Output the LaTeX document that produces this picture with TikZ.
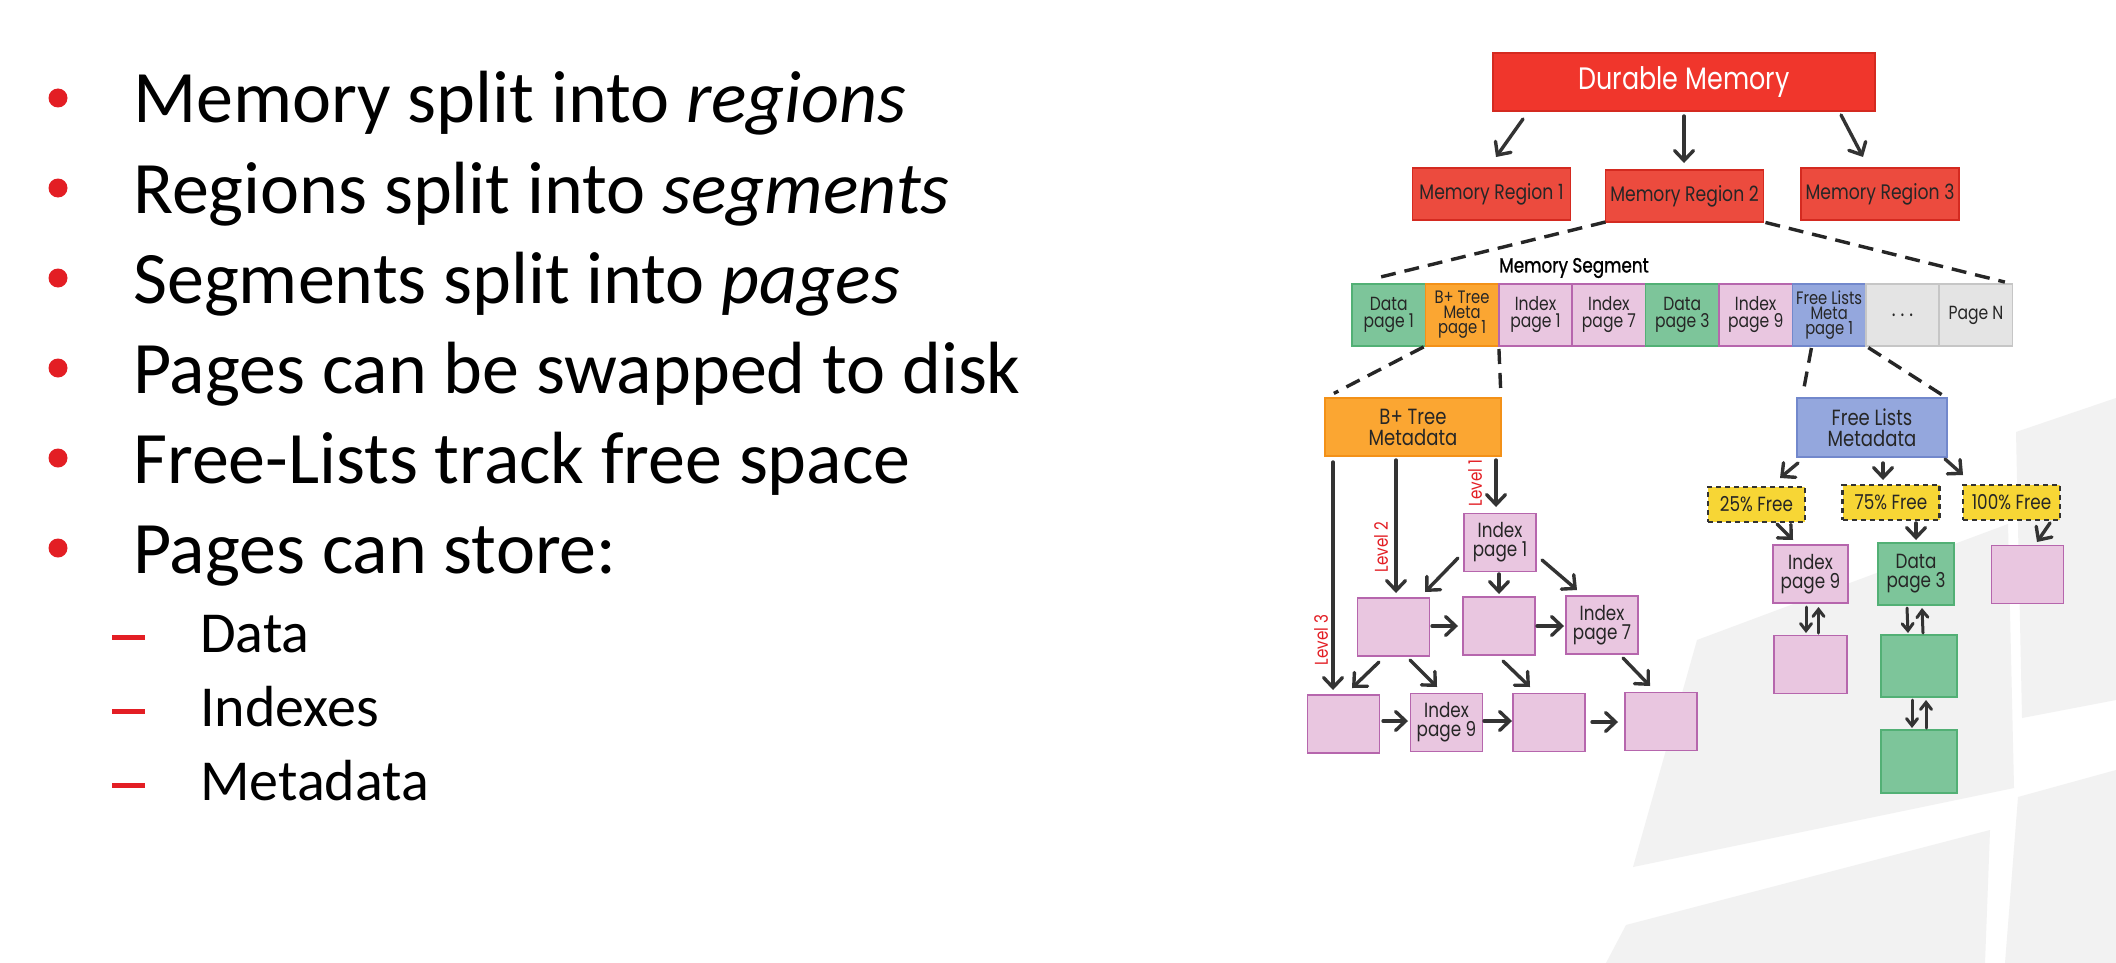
\documentclass[tikz,border=0pt]{standalone}
\usepackage{fontspec}
\setmainfont{Carlito}
\newfontfamily\hand[FakeStretch=0.82]{Poppins}
\newfontfamily\handb[FakeStretch=0.82,FakeBold=1.2]{Poppins}
\usetikzlibrary{arrows.meta,calc}

\definecolor{bulletred}{HTML}{E31E24}
\definecolor{boxred}{HTML}{F0362C}
\definecolor{boxredd}{HTML}{D42A20}
\definecolor{regred}{HTML}{EC4B3E}
\definecolor{pgreen}{HTML}{7DC59A}
\definecolor{pgreend}{HTML}{52B075}
\definecolor{porange}{HTML}{FBA632}
\definecolor{porangd}{HTML}{F39118}
\definecolor{ppink}{HTML}{E9C6E0}
\definecolor{ppinkd}{HTML}{B666AD}
\definecolor{pblue}{HTML}{94A7DD}
\definecolor{pblued}{HTML}{7288CC}
\definecolor{pgray}{HTML}{E4E4E4}
\definecolor{pgrayd}{HTML}{C6C6C6}
\definecolor{pyellow}{HTML}{F7D635}
\definecolor{ink}{HTML}{333333}
\definecolor{wm}{HTML}{F2F2F2}

\tikzset{
  btext/.style={anchor=base west, inner sep=0, font=\fontsize{74}{90}\selectfont},
  stext/.style={anchor=base west, inner sep=0, font=\fontsize{58}{70}\selectfont},
  bdot/.style={circle, fill=bulletred, minimum size=19, inner sep=0},
  bdash/.style={rectangle, fill=bulletred, minimum width=33, minimum height=5, inner sep=0},
  topbox/.style={draw=boxredd, fill=boxred, line width=1.2, inner sep=0, outer sep=0,
    text=white, font=\hand\fontsize{31}{34}\selectfont},
  regbox/.style={draw=boxredd, fill=regred, line width=1.5, inner sep=0, outer sep=0,
    minimum width=158, minimum height=52, text=black!85, font=\hand\fontsize{21}{23}\selectfont},
  cell/.style={draw, line width=1.6, inner sep=0, outer sep=0, minimum width=73.4,
    minimum height=62, align=center, text=black!85, font=\hand\fontsize{19}{17}\selectfont},
  cell3/.style={font=\hand\fontsize{18}{15}\selectfont},
  gcell/.style={cell, fill=pgreen, draw=pgreend},
  ocell/.style={cell, fill=porange, draw=porangd},
  pcell/.style={cell, fill=ppink, draw=ppinkd},
  bcell/.style={cell, fill=pblue, draw=pblued},
  ncell/.style={cell, fill=pgray, draw=pgrayd},
  page/.style={draw, line width=1.6, inner sep=0, outer sep=0, minimum width=72,
    minimum height=58, align=center, text=black!85, font=\hand\fontsize{20.5}{19}\selectfont},
  ppage/.style={page, fill=ppink, draw=ppinkd},
  gpage/.style={page, fill=pgreen, draw=pgreend, minimum width=76, minimum height=62},
  metabox/.style={draw, line width=1.6, inner sep=0, outer sep=0, minimum height=58,
    align=center, text=black!85, font=\hand\fontsize{22}{21}\selectfont},
  freetag/.style={fill=pyellow, draw=ink, line width=2.2, dash pattern=on 5pt off 4pt,
    inner sep=0, outer sep=0, minimum width=97, minimum height=35, text=black!85,
    font=\hand\fontsize{20.5}{21}\selectfont},
  lvl/.style={rotate=90, inner sep=0, text=bulletred, font=\hand\fontsize{18.5}{19}\selectfont},
  arr/.style={draw=ink, line width=3.4, line cap=round,
    -{Straight Barb[length=10pt,width=19pt,line cap=round]}},
  link/.style={draw=ink, line width=3, line cap=round,
    -{Straight Barb[length=7pt,width=11pt,line cap=round]}},
  dline/.style={draw=black!85, line width=3.4, dash pattern=on 15pt off 9pt}
}

\begin{document}
\begin{tikzpicture}[x=1pt,y=-1pt]
\useasboundingbox (0,0) rectangle (2116,963);
\fill[white] (0,0) rectangle (2116,963);

% faint logo watermark behind the diagram
\fill[wm] (2016,432) -- (2116,398) -- (2116,700) -- (2022,718) -- cycle;
\fill[wm] (2018,797) -- (2116,770) -- (2116,963) -- (2005,963) -- cycle;
\fill[wm] (1697,640) -- (2008,524) -- (2014,788) -- (1633,867) -- cycle;
\fill[wm] (1626,925) -- (1990,830) -- (1985,963) -- (1606,963) -- cycle;

% bullet list
\node[bdot] (p1) at (58,98) {};
\node[btext] (t1) at (133,123) {Memory split into \textit{regions}};
\node[bdot] (p2) at (58,188) {};
\node[btext] (t2) at (133,213) {Regions split into \textit{segments}};
\node[bdot] (p3) at (58,278) {};
\node[btext] (t3) at (133,303) {Segments split into \textit{pages}};
\node[bdot] (p4) at (58,368) {};
\node[btext] (t4) at (133,393) {Pages can be swapped to disk};
\node[bdot] (p5) at (58,458) {};
\node[btext] (t5) at (133,483) {Free-Lists track free space};
\node[bdot] (p6) at (58,548) {};
\node[btext] (t6) at (133,573) {Pages can store:};
\node[bdash] (s1) at (128.5,637) {};
\node[stext] (u1) at (200,652) {Data};
\node[bdash] (s2) at (128.5,711) {};
\node[stext] (u2) at (200,726) {Indexes};
\node[bdash] (s3) at (128.5,785) {};
\node[stext] (u3) at (200,800) {Metadata};

% memory hierarchy
\node[topbox, minimum width=382, minimum height=58] (dm) at (1684,82) {Durable Memory};
\node[regbox] (mr1) at (1491.5,194) {Memory Region 1};
\node[regbox] (mr2) at (1684.5,196) {Memory Region 2};
\node[regbox] (mr3) at (1880,194) {Memory Region 3};
\draw[arr] ($(dm)+(-161,37)$) -- ($(mr1)+(4.5,-37)$);
\draw[arr] ($(dm)+(0,34)$) -- ($(mr2)+(-0.5,-33)$);
\draw[arr] ($(dm)+(157,33)$) -- ($(mr3)+(-17,-37)$);

% segment row
\node[inner sep=0, text=black, font=\handb\fontsize{20.5}{20}\selectfont] (segl) at (1574,268) {Memory Segment};
\node[gcell] (d1)  at (1388.7,315) {Data\\page 1};
\node[ocell, cell3] (bt)  at (1462.1,315) {B+ Tree\\Meta\\page 1};
\node[pcell] (ia)  at (1535.5,315) {Index\\page 1};
\node[pcell] (ib)  at (1608.9,315) {Index\\page 7};
\node[gcell] (d3)  at (1682.3,315) {Data\\page 3};
\node[pcell] (ic)  at (1755.7,315) {Index\\page 9};
\node[bcell, cell3] (fls) at (1829.1,315) {Free Lists\\Meta\\page 1};
\node[ncell, font=\hand\fontsize{22}{20}\selectfont] (dots) at (1902.5,315) {.\hspace{5pt}.\hspace{5pt}.};
\node[ncell] (pn)  at (1975.9,315) {Page N};
\draw[dline, shorten >=30pt] (mr2.south west) -- (d1.north west);
\draw[dline, shorten <=2pt, shorten >=8pt] (mr2.south east) -- (pn.north east);

% B+ tree
\node[metabox, fill=porange, draw=porangd, minimum width=176] (bptm) at (1413,427) {B+ Tree\\Metadata};
\draw[dline, shorten <=2pt, shorten >=10pt] (bt.south west) -- (bptm.north west);
\draw[dline, shorten <=3pt, shorten >=5pt] (bt.south east) -- (bptm.north east);
\node[ppage] (ip1) at (1500,542.5) {Index\\page 1};
\node[ppage] (pa)  at (1393.5,627) {};
\node[ppage] (pb)  at (1499,626) {};
\node[ppage] (ip7) at (1602,625) {Index\\page 7};
\node[ppage] (pc)  at (1343.5,724) {};
\node[ppage] (ip9) at (1446.5,722.5) {Index\\page 9};
\node[ppage] (pe)  at (1549,722.5) {};
\node[ppage] (pf)  at (1661,721.5) {};
\draw[arr] ($(bptm)+(-80,35)$) -- ($(pc)+(-10.5,-34)$);
\draw[arr] ($(bptm)+(-17,33)$) -- ($(pa)+(2.5,-34)$);
\draw[arr] ($(bptm)+(83,33)$) -- ($(ip1)+(-4,-35.5)$);
\node[lvl] (l3) at (1321,640) {Level 3};
\node[lvl] (l2) at (1381,547) {Level 2};
\node[lvl] (l1) at (1475,483) {Level 1};
\draw[arr] ($(ip1)+(-42,15.5)$) -- ($(pa)+(31.5,-35)$);
\draw[arr] ($(ip1)+(-1,31.5)$) -- ($(pb)+(0,-32)$);
\draw[arr] ($(ip1)+(42,17.5)$) -- ($(ip7)+(-25,-35)$);
\draw[arr] ($(pa)+(38.5,-1)$) -- ($(pb)+(-41,0)$);
\draw[arr] ($(pb)+(38,0)$) -- ($(ip7)+(-38,1)$);
\draw[arr] ($(pa)+(-14.5,35)$) -- ($(pc)+(8.5,-36)$);
\draw[arr] ($(pa)+(16.5,33)$) -- ($(ip9)+(-9.5,-35.5)$);
\draw[arr] ($(pb)+(4,35)$) -- ($(pe)+(-19,-35.5)$);
\draw[arr] ($(ip7)+(21,33)$) -- ($(pf)+(-11,-35.5)$);
\draw[arr] ($(pc)+(39.5,-3)$) -- ($(ip9)+(-38.5,-1.5)$);
\draw[arr] ($(ip9)+(37.5,-1.5)$) -- ($(pe)+(-37,-1.5)$);
\draw[arr] ($(pe)+(43,-0.5)$) -- ($(pf)+(-43,0.5)$);

% free lists
\node[metabox, fill=pblue, draw=pblued, minimum width=150, minimum height=59] (flm) at (1872,427.5) {Free Lists\\Metadata};
\draw[dline, shorten >=2pt] ($(fls.south west)+(19,2)$) -- ($(flm.north west)+(6,-5)$);
\draw[dline, shorten <=3pt, shorten >=6pt] (fls.south east) -- (flm.north east);
\node[freetag] (f25)  at (1756.5,504.5) {25\% Free};
\node[freetag] (f75)  at (1891,502.5) {75\% Free};
\node[freetag] (f100) at (2011.5,502.5) {100\% Free};
\node[ppage, minimum width=75] (fip9) at (1810.5,574) {Index\\page 9};
\node[gpage] (fd3) at (1916,574) {Data\\page 3};
\node[ppage] (fe) at (2027.5,574.5) {};
\node[ppage, minimum width=73] (fp2) at (1810.5,664.5) {};
\node[gpage] (fg2) at (1919,666) {};
\node[gpage, minimum height=63] (fg3) at (1919,761.5) {};
\draw[arr] ($(flm)+(-74,35.5)$) -- ($(f25)+(23.5,-26.5)$);
\draw[arr] ($(flm)+(11,35.5)$) -- ($(f75)+(-8,-22.5)$);
\draw[arr] ($(flm)+(73,31.5)$) -- ($(f100)+(-48.5,-27.5)$);
\draw[arr] ($(f25)+(20.5,19.5)$) -- ($(fip9)+(-17.5,-34)$);
\draw[arr] ($(f75)+(25,20.5)$) -- ($(fd3)+(0,-34)$);
\draw[arr] ($(f100)+(38.5,20.5)$) -- ($(fe)+(9.5,-32.5)$);
\draw[link] ($(fip9)+(-4.5,33)$) -- ($(fp2)+(-4.5,-31.5)$);
\draw[link] ($(fp2)+(8,-31.5)$) -- ($(fip9)+(8,33)$);
\draw[link] ($(fd3)+(-9,34)$) -- ($(fg2)+(-11,-33)$);
\draw[link] ($(fg2)+(4,-33)$) -- ($(fd3)+(6,34)$);
\draw[link] ($(fg2)+(-7,34)$) -- ($(fg3)+(-7,-33.5)$);
\draw[link] ($(fg3)+(7,-33.5)$) -- ($(fg2)+(7,34)$);
\end{tikzpicture}
\end{document}
